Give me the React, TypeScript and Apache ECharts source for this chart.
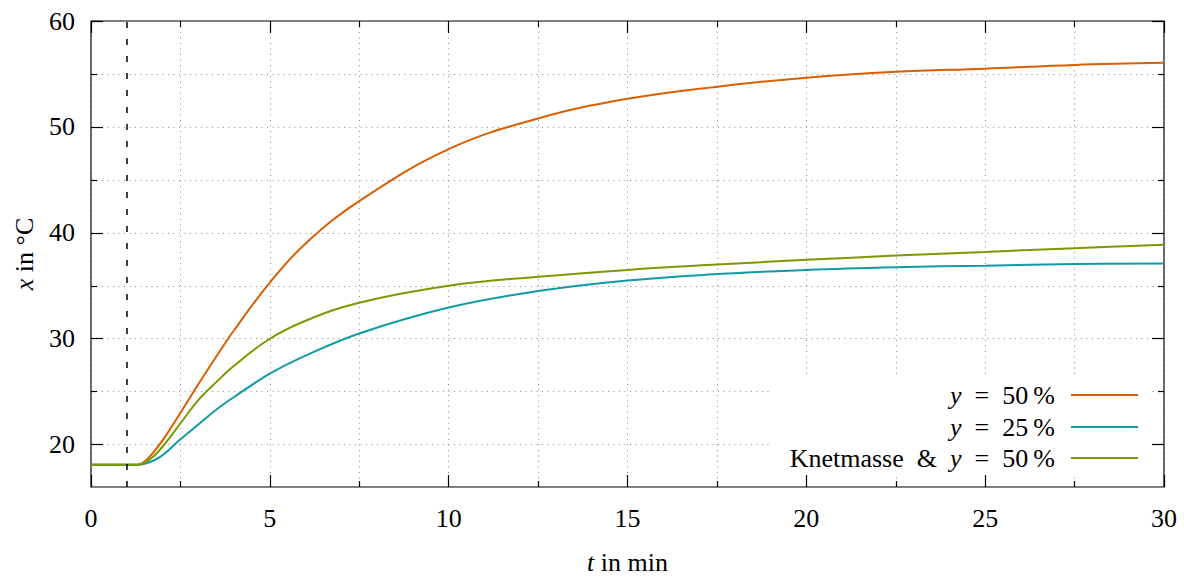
import React, { useEffect, useRef } from "react";
import * as echarts from "echarts";

const T = [0, 1, 1.3, 1.5, 1.75, 2, 2.5, 3, 3.5, 4, 5, 6, 7.5, 10, 12.5, 15, 17.5, 20, 22.5, 25, 27.5, 30];
const Y50 = [18.1, 18.1, 18.1, 18.4, 19.3, 20.4, 23.0, 25.7, 28.3, 30.8, 35.3, 39.0, 43.0, 47.9, 50.8, 52.65, 53.8, 54.65, 55.2, 55.5, 55.85, 56.05];
const Y25 = [18.1, 18.1, 18.1, 18.2, 18.5, 19.0, 20.5, 21.9, 23.3, 24.5, 26.7, 28.4, 30.5, 32.95, 34.5, 35.5, 36.1, 36.5, 36.75, 36.9, 37.05, 37.1];
const KNET = [18.1, 18.1, 18.1, 18.3, 18.9, 19.8, 22.0, 24.2, 25.9, 27.45, 30.0, 31.7, 33.4, 35.0, 35.85, 36.5, 37.0, 37.45, 37.85, 38.2, 38.55, 38.87];
const STEP_T = 1;

const Y_MAJOR = [20, 30, 40, 50, 60];
const Y_MINOR = [25, 35, 45, 55];

const NAMES = ["y = 50 %", "y = 25 %", "Knetmasse & y = 50 %"];
const COLORS = ["#d95f02", "#0f9ba6", "#7a9a01"];

const FONT = "'Liberation Serif', 'DejaVu Serif', serif";
const FS = 26;

export default function App() {
  const ref = useRef<HTMLDivElement>(null);
  useEffect(() => {
    if (!ref.current) return;
    const chart = echarts.init(ref.current, undefined, { renderer: "svg" });
    const grid = { left: 91, right: 20, top: 21, bottom: 92 };
    const dotted = { color: "#8a8a8a", width: 1, type: [1, 4.5] as any };
    const mkY = (pos: string, vals: number[], len: number, labels: boolean, split: boolean, extra: any = {}) => ({
      type: "value",
      position: pos,
      min: 16,
      max: 60,
      axisLine: { show: false },
      axisTick: { show: true, inside: true, length: len, customValues: vals, lineStyle: { color: "#000", width: 1.2 } },
      axisLabel: labels
        ? { show: true, customValues: vals, margin: 16, color: "#000", fontFamily: FONT, fontSize: FS }
        : { show: false },
      splitLine: split ? { show: true, lineStyle: dotted } : { show: false },
      ...extra,
    });
    const mkX = (pos: string, labels: boolean, split: boolean, extra: any = {}) => ({
      type: "value",
      position: pos,
      min: 0,
      max: 30,
      interval: 5,
      axisLine: { show: false },
      axisTick: { show: true, inside: true, length: 12, lineStyle: { color: "#000", width: 1.2 } },
      minorTick: { show: true, splitNumber: 2, length: 6, lineStyle: { color: "#000", width: 1.2 } },
      axisLabel: labels
        ? { show: true, margin: 18, color: "#000", fontFamily: FONT, fontSize: FS }
        : { show: false },
      splitLine: split ? { show: true, lineStyle: dotted } : { show: false },
      minorSplitLine: split ? { show: true, lineStyle: dotted } : { show: false },
      ...extra,
    });
    const rich = {
      i: { fontStyle: "italic", fontFamily: FONT, fontSize: FS, color: "#000" },
      n: { fontFamily: FONT, fontSize: FS, color: "#000" },
    };
    const legendTexts = [
      "{i|y}{n|\u2002=\u200250\u2009%}",
      "{i|y}{n|\u2002=\u200225\u2009%}",
      "{n|Knetmasse\u2002&\u2002}{i|y}{n|\u2002=\u200250\u2009%}",
    ];
    const rowY = [395, 427, 458];
    const graphics: any[] = [
      { type: "rect", z: 1, shape: { x: 773, y: 377, width: 375, height: 97 }, style: { fill: "#fff" } },
    ];
    legendTexts.forEach((t, k) => {
      graphics.push({
        type: "text",
        z: 3,
        x: 1055,
        y: rowY[k],
        style: { text: t, rich, align: "right", verticalAlign: "middle", fontFamily: FONT, fontSize: FS, fill: "#000" },
      });
      graphics.push({
        type: "line",
        z: 3,
        shape: { x1: 1071, y1: rowY[k], x2: 1138, y2: rowY[k] },
        style: { stroke: COLORS[k], lineWidth: 2 },
      });
    });
    const series = [Y50, Y25, KNET].map((vals, k) => ({
      name: NAMES[k],
      type: "line",
      showSymbol: false,
      smooth: 0.4,
      xAxisIndex: 0,
      yAxisIndex: 0,
      lineStyle: { color: COLORS[k], width: 2 },
      itemStyle: { color: COLORS[k] },
      data: T.map((t, j) => [t, vals[j]]),
      z: 4,
      ...(k === 0
        ? {
            markLine: {
              silent: true,
              symbol: ["none", "none"],
              label: { show: false },
              lineStyle: { color: "#000", type: [6, 11], width: 1.5 },
              data: [{ xAxis: STEP_T }],
            },
          }
        : {}),
    }));
    chart.setOption({
      animation: false,
      backgroundColor: "#fff",
      grid: { ...grid, show: true, borderColor: "#000", borderWidth: 1.2, backgroundColor: "transparent" },
      xAxis: [
        mkX("bottom", true, true, {
          name: "{i|t}{n| in min}",
          nameLocation: "middle",
          nameGap: 62,
          nameTextStyle: { rich, fontFamily: FONT, fontSize: FS, color: "#000" },
        }),
        mkX("top", false, false),
      ],
      yAxis: [
        mkY("left", Y_MAJOR, 12, true, true, {
          name: "{i|x}{n| in °C}",
          nameLocation: "middle",
          nameGap: 54,
          nameTextStyle: { rich, fontFamily: FONT, fontSize: FS, color: "#000" },
        }),
        mkY("left", Y_MINOR, 6, false, true),
        mkY("right", Y_MAJOR, 12, false, false),
        mkY("right", Y_MINOR, 6, false, false),
      ],
      graphic: graphics,
      series,
    });
    return () => chart.dispose();
  }, []);
  return <div ref={ref} style={{ position: "absolute", left: 0, top: 0, width: 1184, height: 580 }} />;
}
